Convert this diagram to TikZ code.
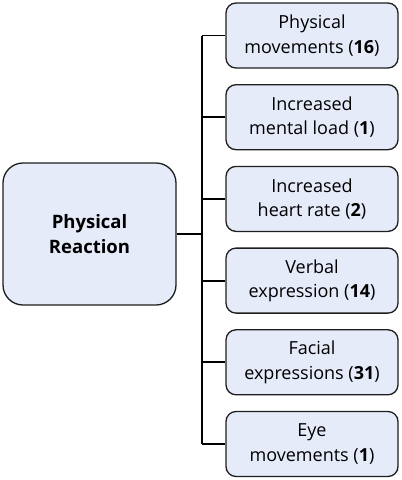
\documentclass[tikz,border=0pt]{standalone}
\usepackage{fontspec}
\setmainfont{Open Sans}
\usetikzlibrary{calc,positioning}
\definecolor{boxfill}{HTML}{E6EBFA}
\definecolor{boxline}{HTML}{1E1E1E}
\tikzset{
node distance=81.7pt, % spacing of the category boxes
leaf/.style={draw=boxline, fill=boxfill, line width=1.3pt, rounded corners=10pt,
  minimum width=172pt, minimum height=65pt, align=center, inner sep=2pt,
  font=\fontsize{18}{24.5}\selectfont},
root/.style={draw=boxline, fill=boxfill, line width=1.3pt, rounded corners=20pt,
  minimum width=173pt, minimum height=142pt, align=center,
  font=\fontsize{18.5}{25}\selectfont\bfseries},
branch/.style={draw=black, line width=1.8pt},
}
\begin{document}
\begin{tikzpicture}[on grid]
\useasboundingbox (0,0) rectangle (402pt,-480pt);
\node[root] (reaction) at (89.5pt,-234pt) {Physical\\Reaction};
\node[leaf] (movements) at (312pt,-35.5pt) {Physical\\movements (\textbf{16})};
\node[leaf] (mental) [below=of movements] {Increased\\mental load (\textbf{1})};
\node[leaf] (heart) [below=of mental] {Increased\\heart rate (\textbf{2})};
\node[leaf] (verbal) [below=of heart] {Verbal\\expression (\textbf{14})};
\node[leaf] (facial) [below=of verbal] {Facial\\expressions (\textbf{31})};
\node[leaf] (eye) [below=of facial] {Eye\\movements (\textbf{1})};
% trunk and branches
\coordinate (fork) at ($(reaction.east)+(25pt,0)$);
\draw[branch] (reaction.east) -- (fork);
\draw[branch] (fork |- movements.west) -- (fork |- eye.west);
\foreach \n in {movements,mental,heart,verbal,facial,eye}
  \draw[branch] (fork |- \n.west) -- (\n.west);
\end{tikzpicture}
\end{document}
